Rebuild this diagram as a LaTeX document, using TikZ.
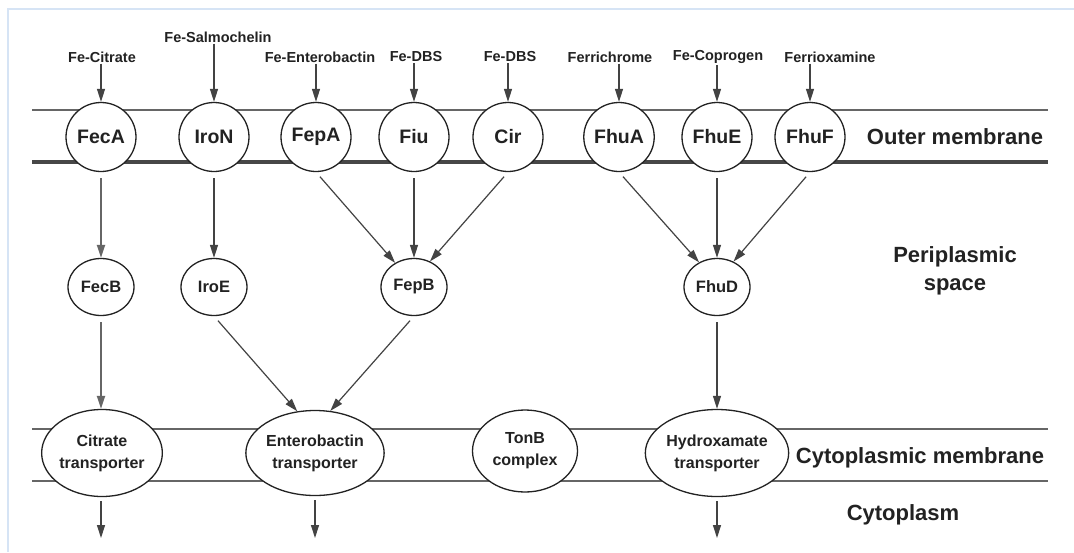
\documentclass[tikz,border=0pt]{standalone}
\usepackage{fontspec}
\setmainfont{Liberation Sans}
\usetikzlibrary{shapes.geometric,arrows.meta}
\definecolor{ink}{HTML}{222222}
\definecolor{framecol}{HTML}{D6E4F5}
\begin{document}
\begin{tikzpicture}[x=1pt,y=-1pt,
  prot/.style={ellipse,draw=ink,line width=1.3pt,fill=white,inner sep=0pt,
    minimum width=70pt,minimum height=69pt,text=ink,
    font=\bfseries\fontsize{19.5}{19.5}\selectfont},
  peri/.style={prot,minimum width=66pt,minimum height=57pt,
    font=\bfseries\fontsize{16.5}{17}\selectfont},
  trans/.style={prot,minimum height=87pt,align=center,
    font=\bfseries\fontsize{16}{22}\selectfont},
  lbl/.style={text=ink,inner sep=1pt,font=\bfseries\fontsize{14.5}{15}\selectfont},
  region/.style={text=ink,align=center,font=\bfseries\fontsize{22}{28}\selectfont},
  memthin/.style={draw=black!60,line width=2pt},
  memthick/.style={draw=black!72,line width=3.5pt},
  flow/.style={draw=ink!85,line width=1.2pt,-{Triangle[length=13pt,width=8pt]}},
  heavy/.style={flow,draw=black!60,line width=2pt},
  framing/.style={draw=framecol,line width=2.5pt}
]
\useasboundingbox (0,0) rectangle (1074,552);
\fill[white] (0,0) rectangle (1074,552);
\draw[framing] (8,552) -- (8,9) -- (1074,9);

% membranes
\draw[memthin]  (32,110) -- (1048,110);
\draw[memthick] (32,162) -- (1048,162);
\draw[memthin]  (32,429) -- (1048,429);
\draw[memthin]  (32,481) -- (1048,481);

% outer membrane proteins
\node[prot] (fecA) at (101,137) {FecA};
\node[prot] (iroN) at (214,137) {IroN};
\node[prot] (fepA) at (316,137) {FepA};
\node[prot] (fiu)  at (414,137) {Fiu};
\node[prot] (cir)  at (508,137) {Cir};
\node[prot] (fhuA) at (619,137) {FhuA};
\node[prot] (fhuE) at (717,137) {FhuE};
\node[prot] (fhuF) at (810,137) {FhuF};

% periplasmic proteins
\node[peri] (fecB) at (101,287) {FecB};
\node[peri] (iroE) at (214,287) {IroE};
\node[peri] (fepB) at (414,287) {FepB};
\node[peri] (fhuD) at (717,287) {FhuD};

% cytoplasmic membrane transporters
\node[trans,minimum width=111pt] (citT) at (102,453) {Citrate\\transporter};
\node[trans,minimum width=118pt,minimum height=85pt] (entT) at (315,453) {Enterobactin\\transporter};
\node[trans,minimum width=105pt,minimum height=82pt] (tonB) at (525,451) {TonB\\complex};
\node[trans,minimum width=120pt] (hydT) at (717,453) {Hydroxamate\\transporter};

% siderophore labels
\node[lbl] (lCit) at (102,57) {Fe-Citrate};
\node[lbl] (lSal) at (218,37) {Fe-Salmochelin};
\node[lbl] (lEnt) at (320,57) {Fe-Enterobactin};
\node[lbl] (lDbs1) at (416,57) {Fe-DBS};
\node[lbl] (lDbs2) at (510,57) {Fe-DBS};
\node[lbl] (lFch) at (610,57) {Ferrichrome};
\node[lbl] (lCop) at (718,57) {Fe-Coprogen};
\node[lbl] (lFox) at (830,57) {Ferrioxamine};

% region labels
\node[region] (rOuter) at (955,137) {Outer membrane};
\node[region] (rPeri)  at (955,271) {Periplasmic\\space};
\node[region] (rCmem)  at (920,458) {Cytoplasmic membrane};
\node[region] (rCyto)  at (903,515) {Cytoplasm};

% exits into cytoplasm
\coordinate (oCit) at (101,538);
\coordinate (oEnt) at (315,538);
\coordinate (oHyd) at (717,538);

% arrows from siderophores
\foreach \l/\p in {lCit/fecA,lSal/iroN,lEnt/fepA,lDbs1/fiu,lDbs2/cir,lFch/fhuA,lCop/fhuE,lFox/fhuF}
  \draw[flow] (\l.south -| \p.north) -- (\p.north);

% outer membrane -> periplasm
\draw[heavy,shorten <=6pt] (fecA.south) -- (fecB.north);
\draw[flow,shorten <=6pt] (iroN.south) -- (iroE.north);
\draw[flow,shorten <=6pt] (fepA.south) -- (fepB.128);
\draw[flow,shorten <=6pt] (fiu.south) -- (fepB.north);
\draw[flow,shorten <=6pt] (cir.south) -- (fepB.58);
\draw[flow,shorten <=6pt] (fhuA.south) -- (fhuD.126);
\draw[flow,shorten <=6pt] (fhuE.south) -- (fhuD.north);
\draw[flow,shorten <=6pt] (fhuF.south) -- (fhuD.57);

% periplasm -> cytoplasmic membrane
\draw[heavy,shorten <=6pt] (fecB.south) -- (citT.north -| fecB.south);
\draw[flow,shorten <=6pt] (iroE.south) -- (entT.113);
\draw[flow,shorten <=6pt] (fepB.south) -- (entT.70);
\draw[flow,shorten <=6pt] (fhuD.south) -- (hydT.north);

% into cytoplasm
\draw[flow,shorten <=4pt] (citT.south -| oCit) -- (oCit);
\draw[flow,shorten <=4pt] (entT.south) -- (oEnt);
\draw[flow,shorten <=4pt] (hydT.south) -- (oHyd);
\end{tikzpicture}
\end{document}
